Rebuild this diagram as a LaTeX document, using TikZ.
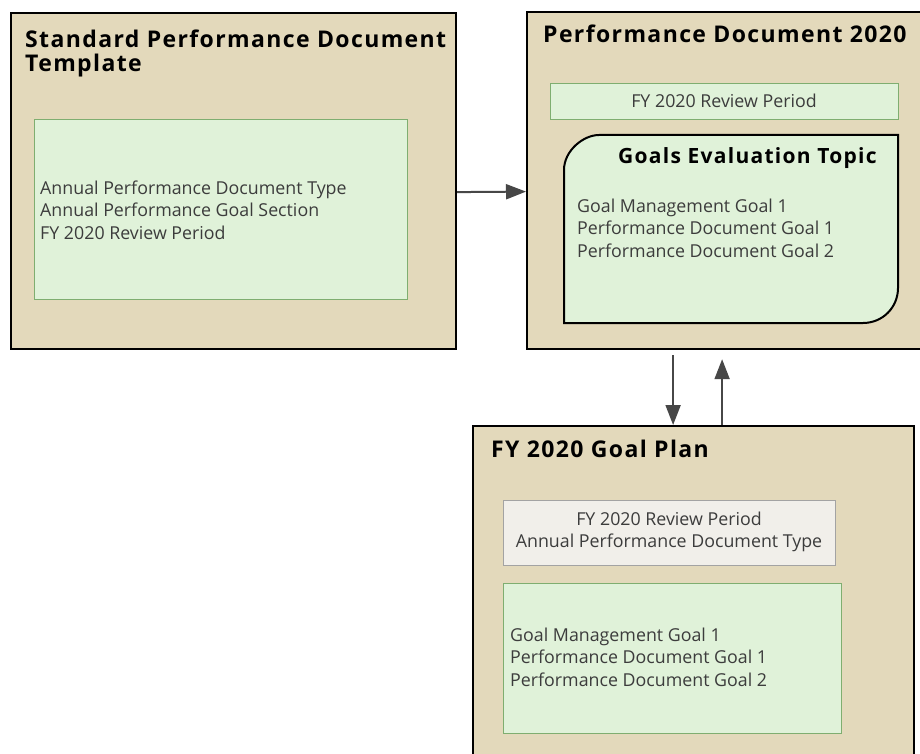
\documentclass[tikz,border=0pt]{standalone}
\usepackage{fontspec}
\setmainfont{Open Sans}
\usetikzlibrary{arrows.meta}
\definecolor{tan}{HTML}{E3D9BB}
\definecolor{lgreen}{HTML}{E0F2D9}
\definecolor{bgreen}{HTML}{7FAE70}
\definecolor{lgray}{HTML}{F1EFEA}
\definecolor{bgray}{HTML}{A3A3A3}
\definecolor{txt}{HTML}{3C3C3C}
\definecolor{arr}{HTML}{474747}
\tikzset{
  outerbox/.style={draw=black, line width=2.2pt, fill=tan, anchor=north west, inner sep=0pt, minimum width=#1},
  greenbox/.style={draw=bgreen, line width=1.4pt, fill=lgreen, anchor=north west, inner sep=0pt},
  graybox/.style={draw=bgray, line width=1.4pt, fill=lgray, anchor=north west, inner sep=0pt},
  ttl/.style={font=\fontsize{23}{24}\selectfont\bfseries\addfontfeatures{LetterSpace=6}, text=black, anchor=west, inner sep=0pt, align=left},
  itm/.style={font=\fontsize{17.8}{22.5}\selectfont, text=txt, anchor=west, inner sep=0pt, align=left},
  conn/.style={draw=arr, line width=2pt, -{Triangle[length=20pt,width=15pt]}},
}
\begin{document}
\begin{tikzpicture}[x=1pt,y=-1pt]
\useasboundingbox (0,0) rectangle (920,754);
\clip (0,0) rectangle (920,754);
\fill[white] (0,0) rectangle (920,754);
% boxes
\node[outerbox=445pt, minimum height=336pt] (b1) at (10,12) {};
\node[outerbox=420pt, minimum height=337pt] (b2) at (526,11) {};
\node[outerbox=441pt, minimum height=360pt] (b3) at (472,425) {};
% box 1 contents
\node[ttl] (t1) at (25,53) {Standard Performance Document\\Template};
\node[greenbox, minimum width=373pt, minimum height=180pt] (g1) at (34,119) {};
\node[itm] (i1) at (40,210) {Annual Performance Document Type\\Annual Performance Goal Section\\FY 2020 Review Period};
% box 2 contents
\node[ttl] (t2) at (543,34) {Performance Document 2020};
\node[greenbox, minimum width=348pt, minimum height=36pt] (g2) at (550,83) {};
\node[itm, anchor=center] (i2) at (724,101) {FY 2020 Review Period};
\filldraw[fill=lgreen, draw=black, line width=2pt]
  (564,323) -- (564,170) .. controls (564,150.7) and (583.3,135) .. (599,135)
  -- (898,135) -- (898,288) .. controls (898,307.3) and (882.7,323) .. (863,323) -- cycle;
\node[ttl, font=\fontsize{21}{24}\selectfont\bfseries\addfontfeatures{LetterSpace=6}] (t3) at (618,158) {Goals Evaluation Topic};
\node[itm] (i3) at (577,228) {Goal Management Goal 1\\Performance Document Goal 1\\Performance Document Goal 2};
% box 3 contents
\node[ttl] (t4) at (491,449) {FY 2020 Goal Plan};
\node[graybox, minimum width=332pt, minimum height=65pt] (g4) at (503,500) {};
\node[itm, anchor=center, align=center] (i4) at (669,532) {FY 2020 Review Period\\Annual Performance Document Type};
\node[greenbox, minimum width=338pt, minimum height=150pt] (g5) at (503,583) {};
\node[itm] (i5) at (510,657) {Goal Management Goal 1\\Performance Document Goal 1\\Performance Document Goal 2};
% connectors
\draw[conn] ([yshift=-11pt]b1.east) -- ([yshift=-11pt]b2.west);
\draw[conn, shorten <=5pt] ([xshift=-20.5pt]b3.north |- b2.south) -- ([xshift=-20.5pt]b3.north);
\draw[conn, shorten >=9pt] ([xshift=28.5pt]b3.north) -- ([xshift=28.5pt]b3.north |- b2.south);
\end{tikzpicture}
\end{document}
